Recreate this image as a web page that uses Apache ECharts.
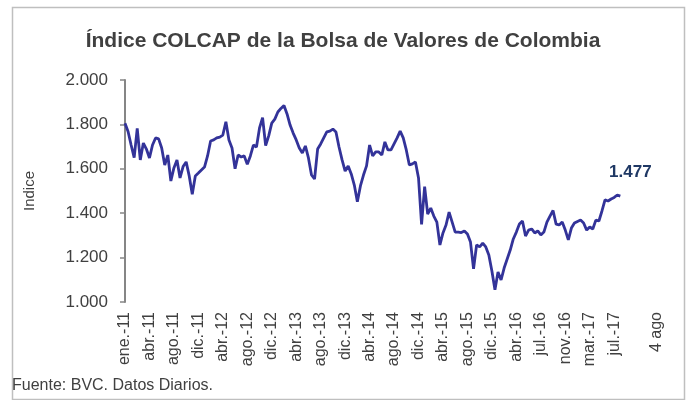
<!DOCTYPE html>
<html><head><meta charset="utf-8">
<script src="https://cdn.jsdelivr.net/npm/echarts@6/dist/echarts.min.js"></script>
<style>html,body{margin:0;padding:0;background:#fff}#c{width:686px;height:400px}</style>
</head><body><div id="c"></div>
<script>
// COLCAP index, sampled evenly in trading-day order (8 samples per label step)
const colcap = [
1805,1768,1707,1650,1782,1640,1716,1689,1649,1707,
1739,1735,1694,1617,1662,1545,1604,1640,1559,1610,
1631,1568,1485,1568,1581,1595,1608,1658,1725,1730,
1739,1743,1752,1812,1730,1694,1600,1662,1653,1658,
1620,1658,1707,1698,1784,1830,1705,1748,1806,1824,
1856,1872,1885,1847,1797,1761,1730,1694,1671,1703,
1649,1572,1554,1689,1712,1739,1766,1770,1779,1766,
1698,1640,1590,1613,1577,1527,1452,1523,1572,1613,
1707,1658,1676,1676,1662,1721,1685,1685,1712,1739,
1770,1739,1685,1617,1622,1631,1559,1350,1520,1396,
1423,1387,1360,1257,1311,1347,1405,1360,1315,1315,
1313,1320,1306,1270,1149,1257,1248,1265,1248,1212,
1140,1055,1135,1099,1153,1194,1234,1284,1315,1351,
1365,1297,1324,1329,1311,1320,1302,1315,1360,1387,
1412,1351,1347,1360,1324,1280,1333,1356,1363,1369,
1356,1324,1338,1329,1369,1365,1410,1460,1455,1464,
1471,1482,1477
];
const tickLabels = ['ene.-11','abr.-11','ago.-11','dic.-11','abr.-12','ago.-12','dic.-12','abr.-13','ago.-13','dic.-13','abr.-14','ago.-14','dic.-14','abr.-15','ago.-15','dic.-15','abr.-16','jul.-16','nov.-16','mar.-17','jul.-17','4 ago'];
const tickIndex = [0,8,16,24,32,40,48,56,64,72,80,88,96,104,112,120,128,136,144,152,160,174];
const lastValue = 1477;
const yTicks = [1000,1200,1400,1600,1800,2000];

const FONT = '"Liberation Sans", Arial, sans-serif';
const seriesData = colcap.map((v, i) => [i, v]);
const lastIdx = colcap.length - 1;

const chart = echarts.init(document.getElementById('c'), null, {renderer: 'canvas'});
chart.setOption({
  animation: false,
  backgroundColor: '#fff',
  title: {
    text: 'Índice COLCAP de la Bolsa de Valores de Colombia',
    left: 'center', top: 26,
    textStyle: {fontFamily: FONT, fontSize: 21, fontWeight: 'bold', color: '#404040'}
  },
  grid: {left: 125, right: 29, top: 80, bottom: 98, containLabel: false},
  xAxis: {
    type: 'value', min: 0, max: tickIndex[tickIndex.length - 1],
    axisLine: {show: false}, axisTick: {show: false}, splitLine: {show: false},
    axisLabel: {
      customValues: tickIndex,
      rotate: 90, margin: 10,
      fontFamily: FONT, fontSize: 16, color: '#404040',
      formatter: v => { const k = tickIndex.indexOf(v); return k >= 0 ? tickLabels[k] : ''; }
    }
  },
  yAxis: {
    type: 'value', min: yTicks[0], max: yTicks[yTicks.length - 1], interval: 200,
    name: 'Indice', nameLocation: 'middle', nameGap: 88,
    nameTextStyle: {fontFamily: FONT, fontSize: 15, color: '#404040'},
    axisLine: {show: true, lineStyle: {color: '#868686', width: 2}},
    axisTick: {show: true, inside: false, length: 5, lineStyle: {color: '#868686', width: 1.5}},
    splitLine: {show: false},
    axisLabel: {
      margin: 17, fontFamily: FONT, fontSize: 17, color: '#404040',
      formatter: v => (v / 1000).toFixed(3)
    }
  },
  series: [{
    type: 'line', data: seriesData, showSymbol: false, symbol: 'none',
    lineStyle: {color: '#333399', width: 2.8},
    markPoint: {
      symbol: 'circle', symbolSize: 0,
      data: [{coord: [lastIdx, lastValue], value: lastValue}],
      label: {
        show: true, position: 'top', offset: [10, -10],
        formatter: p => (p.value / 1000).toFixed(3),
        fontFamily: FONT, fontSize: 17, fontWeight: 'bold', color: '#1f3864'
      }
    }
  }],
  graphic: [
    {type: 'rect', left: 10, top: 5, shape: {width: 672, height: 392},
     style: {fill: 'none', stroke: '#bfbfbf', lineWidth: 1.5}, silent: true},
    {type: 'text', left: 12, top: 378,
     style: {text: 'Fuente: BVC. Datos Diarios.', font: '16px ' + FONT, fill: '#404040'}}
  ]
});
</script></body></html>
